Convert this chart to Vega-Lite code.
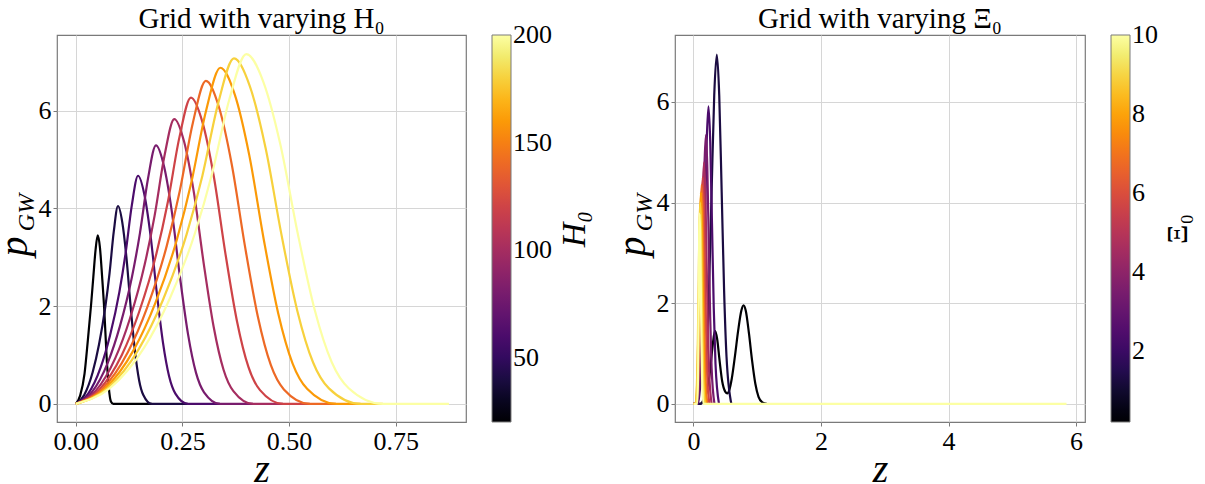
{
  "$schema": "https://vega.github.io/schema/vega-lite/v6.json",
  "padding": {"left": -7, "top": 4, "right": 5, "bottom": 2},
  "background": "white",
  "config": {
    "font": "Liberation Serif",
    "view": {"stroke": "#7a7a7a", "strokeWidth": 1.2},
    "axis": {"labelFont": "Liberation Serif", "labelFontSize": 26, "labelColor": "#000", "tickColor": "#7a7a7a", "tickSize": 4, "tickWidth": 1, "domain": false, "gridColor": "#d6d6d6", "gridWidth": 1, "labelPadding": 2, "titleFont": "Liberation Serif", "titleFontStyle": "italic", "titleFontWeight": "normal", "titleColor": "#000", "titleFontSize": 40},
    "legend": {"orient": "right", "offset": 26, "padding": 0, "gradientLength": 387, "gradientThickness": 19, "gradientStrokeColor": "#7a7a7a", "gradientStrokeWidth": 1, "labelFont": "Liberation Serif", "labelFontSize": 26, "labelColor": "#000", "labelOffset": 4, "labelOverlap": false, "titleOrient": "right", "titleFont": "Liberation Serif", "titleFontWeight": "normal", "titleColor": "#000", "titlePadding": 6},
    "title": {"font": "Liberation Serif", "fontSize": 29, "fontWeight": "normal", "color": "#000", "frame": "group", "anchor": "middle", "offset": 1},
    "concat": {"spacing": 18}
  },
  "resolve": {"scale": {"color": "independent"}, "legend": {"color": "independent"}},
  "datasets": {
    "left": [
      {"H0":20,"z":0,"p":0},{"H0":20,"z":0.0103,"p":0.17},{"H0":20,"z":0.0206,"p":0.62},{"H0":20,"z":0.0283,"p":1.3},{"H0":20,"z":0.0361,"p":2.05},{"H0":20,"z":0.0412,"p":2.6},{"H0":20,"z":0.0464,"p":3.15},{"H0":20,"z":0.0515,"p":3.45},{"H0":20,"z":0.0567,"p":3.2},{"H0":20,"z":0.0618,"p":2.6},{"H0":20,"z":0.067,"p":1.9},{"H0":20,"z":0.0721,"p":1.0},{"H0":20,"z":0.0773,"p":0.35},{"H0":20,"z":0.0824,"p":0.05},{"H0":20,"z":0.088,"p":0},{"H0":20,"z":0.1782,"p":0},
      {"H0":40,"z":0,"p":0},{"H0":40,"z":0.0198,"p":0.182},{"H0":40,"z":0.0396,"p":0.648},{"H0":40,"z":0.0545,"p":1.215},{"H0":40,"z":0.0693,"p":1.985},{"H0":40,"z":0.0792,"p":2.673},{"H0":40,"z":0.0891,"p":3.524},{"H0":40,"z":0.099,"p":4.05},{"H0":40,"z":0.1089,"p":3.726},{"H0":40,"z":0.1188,"p":2.997},{"H0":40,"z":0.1287,"p":1.985},{"H0":40,"z":0.1386,"p":1.094},{"H0":40,"z":0.1485,"p":0.486},{"H0":40,"z":0.1584,"p":0.182},{"H0":40,"z":0.1782,"p":0},{"H0":40,"z":0.2628,"p":0},
      {"H0":60,"z":0,"p":0},{"H0":60,"z":0.0292,"p":0.21},{"H0":60,"z":0.0584,"p":0.747},{"H0":60,"z":0.0803,"p":1.401},{"H0":60,"z":0.1022,"p":2.288},{"H0":60,"z":0.1168,"p":3.082},{"H0":60,"z":0.1314,"p":4.063},{"H0":60,"z":0.146,"p":4.67},{"H0":60,"z":0.1606,"p":4.296},{"H0":60,"z":0.1752,"p":3.456},{"H0":60,"z":0.1898,"p":2.288},{"H0":60,"z":0.2044,"p":1.261},{"H0":60,"z":0.219,"p":0.56},{"H0":60,"z":0.2336,"p":0.21},{"H0":60,"z":0.2628,"p":0},{"H0":60,"z":0.3384,"p":0},
      {"H0":80,"z":0,"p":0},{"H0":80,"z":0.0376,"p":0.238},{"H0":80,"z":0.0752,"p":0.846},{"H0":80,"z":0.1034,"p":1.587},{"H0":80,"z":0.1316,"p":2.592},{"H0":80,"z":0.1504,"p":3.491},{"H0":80,"z":0.1692,"p":4.602},{"H0":80,"z":0.188,"p":5.29},{"H0":80,"z":0.2068,"p":4.867},{"H0":80,"z":0.2256,"p":3.915},{"H0":80,"z":0.2444,"p":2.592},{"H0":80,"z":0.2632,"p":1.428},{"H0":80,"z":0.282,"p":0.635},{"H0":80,"z":0.3008,"p":0.238},{"H0":80,"z":0.3384,"p":0},{"H0":80,"z":0.4158,"p":0},
      {"H0":100,"z":0,"p":0},{"H0":100,"z":0.0462,"p":0.262},{"H0":100,"z":0.0924,"p":0.933},{"H0":100,"z":0.1271,"p":1.749},{"H0":100,"z":0.1617,"p":2.857},{"H0":100,"z":0.1848,"p":3.848},{"H0":100,"z":0.2079,"p":5.072},{"H0":100,"z":0.231,"p":5.83},{"H0":100,"z":0.2541,"p":5.364},{"H0":100,"z":0.2772,"p":4.314},{"H0":100,"z":0.3003,"p":2.857},{"H0":100,"z":0.3234,"p":1.574},{"H0":100,"z":0.3465,"p":0.7},{"H0":100,"z":0.3696,"p":0.262},{"H0":100,"z":0.4158,"p":0},{"H0":100,"z":0.486,"p":0},
      {"H0":120,"z":0,"p":0},{"H0":120,"z":0.054,"p":0.282},{"H0":120,"z":0.108,"p":1.003},{"H0":120,"z":0.1485,"p":1.881},{"H0":120,"z":0.189,"p":3.072},{"H0":120,"z":0.216,"p":4.138},{"H0":120,"z":0.243,"p":5.455},{"H0":120,"z":0.27,"p":6.27},{"H0":120,"z":0.297,"p":5.768},{"H0":120,"z":0.324,"p":4.64},{"H0":120,"z":0.351,"p":3.072},{"H0":120,"z":0.378,"p":1.693},{"H0":120,"z":0.405,"p":0.752},{"H0":120,"z":0.432,"p":0.282},{"H0":120,"z":0.486,"p":0},{"H0":120,"z":0.549,"p":0},
      {"H0":140,"z":0,"p":0},{"H0":140,"z":0.061,"p":0.297},{"H0":140,"z":0.122,"p":1.058},{"H0":140,"z":0.1678,"p":1.983},{"H0":140,"z":0.2135,"p":3.239},{"H0":140,"z":0.244,"p":4.363},{"H0":140,"z":0.2745,"p":5.751},{"H0":140,"z":0.305,"p":6.61},{"H0":140,"z":0.3355,"p":6.081},{"H0":140,"z":0.366,"p":4.891},{"H0":140,"z":0.3965,"p":3.239},{"H0":140,"z":0.427,"p":1.785},{"H0":140,"z":0.4575,"p":0.793},{"H0":140,"z":0.488,"p":0.297},{"H0":140,"z":0.549,"p":0},{"H0":140,"z":0.6102,"p":0},
      {"H0":160,"z":0,"p":0},{"H0":160,"z":0.0678,"p":0.31},{"H0":160,"z":0.1356,"p":1.101},{"H0":160,"z":0.1865,"p":2.064},{"H0":160,"z":0.2373,"p":3.371},{"H0":160,"z":0.2712,"p":4.541},{"H0":160,"z":0.3051,"p":5.986},{"H0":160,"z":0.339,"p":6.88},{"H0":160,"z":0.3729,"p":6.33},{"H0":160,"z":0.4068,"p":5.091},{"H0":160,"z":0.4407,"p":3.371},{"H0":160,"z":0.4746,"p":1.858},{"H0":160,"z":0.5085,"p":0.826},{"H0":160,"z":0.5424,"p":0.31},{"H0":160,"z":0.6102,"p":0},{"H0":160,"z":0.6678,"p":0},
      {"H0":180,"z":0,"p":0},{"H0":180,"z":0.0742,"p":0.318},{"H0":180,"z":0.1484,"p":1.131},{"H0":180,"z":0.2041,"p":2.121},{"H0":180,"z":0.2597,"p":3.464},{"H0":180,"z":0.2968,"p":4.666},{"H0":180,"z":0.3339,"p":6.151},{"H0":180,"z":0.371,"p":7.07},{"H0":180,"z":0.4081,"p":6.504},{"H0":180,"z":0.4452,"p":5.232},{"H0":180,"z":0.4823,"p":3.464},{"H0":180,"z":0.5194,"p":1.909},{"H0":180,"z":0.5565,"p":0.848},{"H0":180,"z":0.5936,"p":0.318},{"H0":180,"z":0.6678,"p":0},{"H0":180,"z":0.72,"p":0},
      {"H0":200,"z":0,"p":0},{"H0":200,"z":0.08,"p":0.322},{"H0":200,"z":0.16,"p":1.146},{"H0":200,"z":0.22,"p":2.148},{"H0":200,"z":0.28,"p":3.508},{"H0":200,"z":0.32,"p":4.726},{"H0":200,"z":0.36,"p":6.229},{"H0":200,"z":0.4,"p":7.16},{"H0":200,"z":0.44,"p":6.587},{"H0":200,"z":0.48,"p":5.298},{"H0":200,"z":0.52,"p":3.508},{"H0":200,"z":0.56,"p":1.933},{"H0":200,"z":0.6,"p":0.859},{"H0":200,"z":0.64,"p":0.322},{"H0":200,"z":0.72,"p":0},{"H0":200,"z":0.875,"p":0}
    ],
    "right": [
      {"c":"a","Xi0":0.2,"z":0,"p":0},{"c":"a","Xi0":0.2,"z":0.1,"p":0},{"c":"a","Xi0":0.2,"z":0.15,"p":0.05},{"c":"a","Xi0":0.2,"z":0.2,"p":0.2},{"c":"a","Xi0":0.2,"z":0.25,"p":0.55},{"c":"a","Xi0":0.2,"z":0.3,"p":1.15},{"c":"a","Xi0":0.2,"z":0.335,"p":1.45},{"c":"a","Xi0":0.2,"z":0.37,"p":1.3},{"c":"a","Xi0":0.2,"z":0.41,"p":0.85},{"c":"a","Xi0":0.2,"z":0.45,"p":0.45},{"c":"a","Xi0":0.2,"z":0.5,"p":0.24},{"c":"a","Xi0":0.2,"z":0.53,"p":0.21},{"c":"a","Xi0":0.2,"z":0.56,"p":0.27},{"c":"a","Xi0":0.2,"z":0.6,"p":0.5},{"c":"a","Xi0":0.2,"z":0.65,"p":0.95},{"c":"a","Xi0":0.2,"z":0.7,"p":1.45},{"c":"a","Xi0":0.2,"z":0.75,"p":1.85},{"c":"a","Xi0":0.2,"z":0.785,"p":1.96},{"c":"a","Xi0":0.2,"z":0.82,"p":1.85},{"c":"a","Xi0":0.2,"z":0.87,"p":1.4},{"c":"a","Xi0":0.2,"z":0.92,"p":0.85},{"c":"a","Xi0":0.2,"z":0.97,"p":0.4},{"c":"a","Xi0":0.2,"z":1.02,"p":0.14},{"c":"a","Xi0":0.2,"z":1.08,"p":0.03},{"c":"a","Xi0":0.2,"z":1.15,"p":0},
      {"c":"b","Xi0":1.29,"z":0,"p":0},{"c":"b","Xi0":1.29,"z":0.12,"p":0},{"c":"b","Xi0":1.29,"z":0.202,"p":0.937},{"c":"b","Xi0":1.29,"z":0.243,"p":2.256},{"c":"b","Xi0":1.29,"z":0.284,"p":4.213},{"c":"b","Xi0":1.29,"z":0.325,"p":6.121},{"c":"b","Xi0":1.29,"z":0.366,"p":6.94},{"c":"b","Xi0":1.29,"z":0.404,"p":6.121},{"c":"b","Xi0":1.29,"z":0.442,"p":4.213},{"c":"b","Xi0":1.29,"z":0.48,"p":2.256},{"c":"b","Xi0":1.29,"z":0.518,"p":0.937},{"c":"b","Xi0":1.29,"z":0.594,"p":0},
      {"c":"c","Xi0":2.38,"z":0,"p":0},{"c":"c","Xi0":2.38,"z":0.07,"p":0},{"c":"c","Xi0":2.38,"z":0.125,"p":0.798},{"c":"c","Xi0":2.38,"z":0.1525,"p":1.921},{"c":"c","Xi0":2.38,"z":0.18,"p":3.587},{"c":"c","Xi0":2.38,"z":0.2075,"p":5.213},{"c":"c","Xi0":2.38,"z":0.235,"p":5.91},{"c":"c","Xi0":2.38,"z":0.2625,"p":5.213},{"c":"c","Xi0":2.38,"z":0.29,"p":3.587},{"c":"c","Xi0":2.38,"z":0.3175,"p":1.921},{"c":"c","Xi0":2.38,"z":0.345,"p":0.798},{"c":"c","Xi0":2.38,"z":0.4,"p":0},
      {"c":"d","Xi0":3.47,"z":0,"p":0},{"c":"d","Xi0":3.47,"z":0.059,"p":0},{"c":"d","Xi0":3.47,"z":0.104,"p":0.721},{"c":"d","Xi0":3.47,"z":0.1265,"p":1.736},{"c":"d","Xi0":3.47,"z":0.149,"p":3.241},{"c":"d","Xi0":3.47,"z":0.1715,"p":4.71},{"c":"d","Xi0":3.47,"z":0.194,"p":5.34},{"c":"d","Xi0":3.47,"z":0.2165,"p":4.71},{"c":"d","Xi0":3.47,"z":0.239,"p":3.241},{"c":"d","Xi0":3.47,"z":0.2615,"p":1.736},{"c":"d","Xi0":3.47,"z":0.284,"p":0.721},{"c":"d","Xi0":3.47,"z":0.329,"p":0},
      {"c":"e","Xi0":4.56,"z":0,"p":0},{"c":"e","Xi0":4.56,"z":0.045,"p":0},{"c":"e","Xi0":4.56,"z":0.085,"p":0.648},{"c":"e","Xi0":4.56,"z":0.105,"p":1.56},{"c":"e","Xi0":4.56,"z":0.125,"p":2.914},{"c":"e","Xi0":4.56,"z":0.145,"p":4.234},{"c":"e","Xi0":4.56,"z":0.165,"p":4.8},{"c":"e","Xi0":4.56,"z":0.185,"p":4.234},{"c":"e","Xi0":4.56,"z":0.205,"p":2.914},{"c":"e","Xi0":4.56,"z":0.225,"p":1.56},{"c":"e","Xi0":4.56,"z":0.245,"p":0.648},{"c":"e","Xi0":4.56,"z":0.285,"p":0},
      {"c":"f","Xi0":5.64,"z":0,"p":0},{"c":"f","Xi0":5.64,"z":0.04,"p":0},{"c":"f","Xi0":5.64,"z":0.075,"p":0.608},{"c":"f","Xi0":5.64,"z":0.0925,"p":1.463},{"c":"f","Xi0":5.64,"z":0.11,"p":2.732},{"c":"f","Xi0":5.64,"z":0.1275,"p":3.969},{"c":"f","Xi0":5.64,"z":0.145,"p":4.5},{"c":"f","Xi0":5.64,"z":0.1625,"p":3.969},{"c":"f","Xi0":5.64,"z":0.18,"p":2.732},{"c":"f","Xi0":5.64,"z":0.1975,"p":1.463},{"c":"f","Xi0":5.64,"z":0.215,"p":0.608},{"c":"f","Xi0":5.64,"z":0.25,"p":0},
      {"c":"g","Xi0":6.73,"z":0,"p":0},{"c":"g","Xi0":6.73,"z":0.038,"p":0},{"c":"g","Xi0":6.73,"z":0.068,"p":0.587},{"c":"g","Xi0":6.73,"z":0.083,"p":1.414},{"c":"g","Xi0":6.73,"z":0.098,"p":2.64},{"c":"g","Xi0":6.73,"z":0.113,"p":3.837},{"c":"g","Xi0":6.73,"z":0.128,"p":4.35},{"c":"g","Xi0":6.73,"z":0.143,"p":3.837},{"c":"g","Xi0":6.73,"z":0.158,"p":2.64},{"c":"g","Xi0":6.73,"z":0.173,"p":1.414},{"c":"g","Xi0":6.73,"z":0.188,"p":0.587},{"c":"g","Xi0":6.73,"z":0.218,"p":0},
      {"c":"h","Xi0":7.82,"z":0,"p":0},{"c":"h","Xi0":7.82,"z":0.035,"p":0},{"c":"h","Xi0":7.82,"z":0.062,"p":0.567},{"c":"h","Xi0":7.82,"z":0.0755,"p":1.365},{"c":"h","Xi0":7.82,"z":0.089,"p":2.549},{"c":"h","Xi0":7.82,"z":0.1025,"p":3.704},{"c":"h","Xi0":7.82,"z":0.116,"p":4.2},{"c":"h","Xi0":7.82,"z":0.1295,"p":3.704},{"c":"h","Xi0":7.82,"z":0.143,"p":2.549},{"c":"h","Xi0":7.82,"z":0.1565,"p":1.365},{"c":"h","Xi0":7.82,"z":0.17,"p":0.567},{"c":"h","Xi0":7.82,"z":0.197,"p":0},
      {"c":"i","Xi0":8.91,"z":0,"p":0},{"c":"i","Xi0":8.91,"z":0.033,"p":0},{"c":"i","Xi0":8.91,"z":0.057,"p":0.54},{"c":"i","Xi0":8.91,"z":0.069,"p":1.3},{"c":"i","Xi0":8.91,"z":0.081,"p":2.428},{"c":"i","Xi0":8.91,"z":0.093,"p":3.528},{"c":"i","Xi0":8.91,"z":0.105,"p":4.0},{"c":"i","Xi0":8.91,"z":0.117,"p":3.528},{"c":"i","Xi0":8.91,"z":0.129,"p":2.428},{"c":"i","Xi0":8.91,"z":0.141,"p":1.3},{"c":"i","Xi0":8.91,"z":0.153,"p":0.54},{"c":"i","Xi0":8.91,"z":0.177,"p":0},
      {"c":"j","Xi0":10,"z":0,"p":0},{"c":"j","Xi0":10,"z":0.059,"p":0},{"c":"j","Xi0":10,"z":0.071,"p":0.51},{"c":"j","Xi0":10,"z":0.077,"p":1.229},{"c":"j","Xi0":10,"z":0.083,"p":2.294},{"c":"j","Xi0":10,"z":0.089,"p":3.334},{"c":"j","Xi0":10,"z":0.095,"p":3.78},{"c":"j","Xi0":10,"z":0.105,"p":3.334},{"c":"j","Xi0":10,"z":0.115,"p":2.294},{"c":"j","Xi0":10,"z":0.125,"p":1.229},{"c":"j","Xi0":10,"z":0.135,"p":0.51},{"c":"j","Xi0":10,"z":0.155,"p":0},{"c":"j","Xi0":10,"z":5.85,"p":0}
    ]
  },
  "hconcat": [
    {
      "width": 409, "height": 387,
      "title": {"text": "Grid with varying H₀"},
      "data": {"name": "left"},
      "layer": [
        {
          "mark": {"type": "line", "strokeWidth": 2.2, "interpolate": "monotone"},
          "encoding": {
            "x": {"field": "z", "type": "quantitative", "scale": {"domain": [-0.044, 0.915], "nice": false, "zero": false}, "axis": {"values": [0, 0.25, 0.5, 0.75], "format": ".2f", "title": "z", "titlePadding": -5}},
            "y": {"field": "p", "type": "quantitative", "scale": {"domain": [-0.37, 7.55], "nice": false, "zero": false}, "axis": {"orient": "left", "values": [0, 2, 4, 6], "title": "p", "titleX": -31, "titleY": 211, "titleBaseline": "alphabetic", "titleAngle": 270}},
            "color": {"field": "H0", "type": "quantitative", "scale": {"scheme": "inferno", "domain": [20, 200]}, "legend": {"title": "H₀", "values": [50, 100, 150, 200], "titleFontSize": 34, "titleFontStyle": "italic", "encoding": {"title": {"angle": {"value": 270}, "baseline": {"value": "top"}}, "labels": {"baseline": {"value": "middle"}}}}}
          }
        },
        {
          "mark": {"type": "line", "opacity": 0},
          "encoding": {
            "x": {"field": "z", "type": "quantitative"},
            "y": {"field": "p", "type": "quantitative", "axis": {"orient": "left", "title": "GW", "titleFontSize": 24, "labels": false, "ticks": false, "grid": false, "domain": false, "titleX": -24, "titleY": 177, "titleBaseline": "alphabetic", "titleAngle": 270}},
            "detail": {"field": "H0"}
          }
        }
      ],
      "resolve": {"axis": {"y": "independent"}}
    },
    {
      "width": 410, "height": 387,
      "title": {"text": "Grid with varying Ξ₀"},
      "data": {"name": "right"},
      "layer": [
        {
          "mark": {"type": "line", "strokeWidth": 2.2, "interpolate": "monotone"},
          "encoding": {
            "x": {"field": "z", "type": "quantitative", "scale": {"domain": [-0.29, 6.14], "nice": false, "zero": false}, "axis": {"values": [0, 2, 4, 6], "format": "d", "title": "z", "titlePadding": -5}},
            "y": {"field": "p", "type": "quantitative", "scale": {"domain": [-0.36, 7.33], "nice": false, "zero": false}, "axis": {"orient": "left", "values": [0, 2, 4, 6], "title": "p", "titleX": -31, "titleY": 211, "titleBaseline": "alphabetic", "titleAngle": 270}},
            "color": {"field": "Xi0", "type": "quantitative", "scale": {"scheme": "inferno", "domain": [0.2, 10]}, "legend": {"title": "Ξ₀", "values": [2, 4, 6, 8, 10], "titleFontSize": 30, "titleFontStyle": "normal", "titlePadding": 5, "encoding": {"title": {"angle": {"value": 270}, "baseline": {"value": "top"}}, "labels": {"baseline": {"value": "middle"}}}}},
            "detail": {"field": "c", "type": "nominal"}
          }
        },
        {
          "mark": {"type": "line", "opacity": 0},
          "encoding": {
            "x": {"field": "z", "type": "quantitative"},
            "y": {"field": "p", "type": "quantitative", "axis": {"orient": "left", "title": "GW", "titleFontSize": 24, "labels": false, "ticks": false, "grid": false, "domain": false, "titleX": -24, "titleY": 177, "titleBaseline": "alphabetic", "titleAngle": 270}},
            "detail": {"field": "c", "type": "nominal"}
          }
        }
      ],
      "resolve": {"axis": {"y": "independent"}}
    }
  ]
}
